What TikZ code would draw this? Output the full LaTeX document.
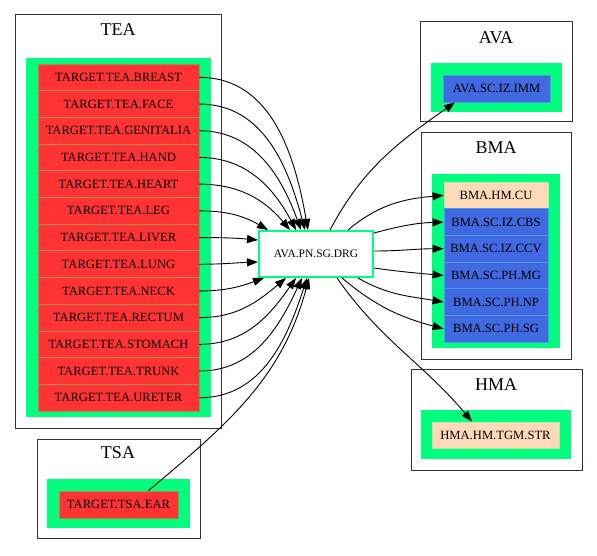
\documentclass[tikz,border=0pt]{standalone}
\usepackage{fontspec}
\setmainfont{Liberation Serif}
\usetikzlibrary{arrows.meta}
\definecolor{sgreen}{RGB}{0,255,127}
\definecolor{tred}{RGB}{255,51,51}
\definecolor{rblue}{RGB}{65,105,225}
\definecolor{peach}{RGB}{255,218,185}
\definecolor{redsep}{RGB}{170,140,80}
\definecolor{bluesep}{RGB}{70,160,225}
\definecolor{peachsep}{RGB}{200,225,170}
\definecolor{clbox}{RGB}{50,50,50}
\tikzset{
  cluster/.style={draw=clbox, line width=1pt},
  cltitle/.style={font=\fontsize{18}{18}\selectfont, inner sep=0pt},
  item/.style={line width=0.8pt, inner sep=0pt, font=\fontsize{12.6}{12.6}\selectfont},
  reditem/.style={item, fill=tred, draw=redsep, minimum width=161pt, minimum height=26.7pt},
  blueitem/.style={item, fill=rblue, draw=bluesep},
  peachitem/.style={item, fill=peach, draw=peachsep},
  hub/.style={draw=sgreen, line width=2pt, fill=white, minimum width=114pt, minimum height=46pt, inner sep=0pt, font=\fontsize{11.5}{11.5}\selectfont},
  link/.style={line width=0.9pt, -{Triangle[length=11pt,width=8pt]}}
}
\begin{document}
\begin{tikzpicture}[x=1pt,y=1pt]
\useasboundingbox (0,0) rectangle (597,555);
\fill[white] (0,0) rectangle (597,555);
% TEA cluster
\draw[cluster] (15,540) rectangle (221,127);
\node[cltitle] (teaT) at (118,525) {TEA};
\fill[sgreen] (26,497) rectangle (211,138);
\foreach \n [count=\i from 0] in {BREAST,FACE,GENITALIA,HAND,HEART,LEG,LIVER,LUNG,NECK,RECTUM,STOMACH,TRUNK,URETER}
  \node[reditem] (t\n) at (118.5,{477.65-26.7*\i}) {TARGET.TEA.\n};
% TSA cluster
\draw[cluster] (37,116) rectangle (200,17);
\node[cltitle] (tsaT) at (118,102) {TSA};
\fill[sgreen] (47,76) rectangle (190,27);
\node[reditem, minimum width=119pt, minimum height=27pt] (ear) at (118.5,50.5) {TARGET.TSA.EAR};
% hub
\node[hub] (drg) at (316,301) {AVA.PN.SG.DRG};
% AVA cluster
\draw[cluster] (420,533) rectangle (572,433);
\node[cltitle] (avaT) at (496,517) {AVA};
\fill[sgreen] (431,492) rectangle (562,443);
\node[blueitem, minimum width=107pt, minimum height=27pt] (imm) at (496.5,466.5) {AVA.SC.IZ.IMM};
% BMA cluster
\draw[cluster] (421,422) rectangle (571,196);
\node[cltitle] (bmaT) at (496,407) {BMA};
\fill[sgreen] (432,381) rectangle (560,207);
\node[peachitem, minimum width=104pt, minimum height=26.7pt] (cu) at (496,359.65) {BMA.HM.CU};
\node[blueitem, minimum width=104pt, minimum height=26.7pt] (cbs) at (496,332.95) {BMA.SC.IZ.CBS};
\node[blueitem, minimum width=104pt, minimum height=26.7pt] (ccv) at (496,306.25) {BMA.SC.IZ.CCV};
\node[blueitem, minimum width=104pt, minimum height=26.7pt] (mg) at (496,279.55) {BMA.SC.PH.MG};
\node[blueitem, minimum width=104pt, minimum height=26.7pt] (np) at (496,252.85) {BMA.SC.PH.NP};
\node[blueitem, minimum width=104pt, minimum height=26.7pt] (sg) at (496,226.15) {BMA.SC.PH.SG};
% HMA cluster
\draw[cluster] (411,186) rectangle (582,85);
\node[cltitle] (hmaT) at (496,170) {HMA};
\fill[sgreen] (421,145) rectangle (571,96);
\node[peachitem, minimum width=127pt, minimum height=26pt] (str) at (495.5,120) {HMA.HM.TGM.STR};
% incoming edges
\draw[link] (tBREAST.east) to[out=0,in=100] ([xshift=-8pt]drg.north);
\draw[link] (tFACE.east) to[out=0,in=105] ([xshift=-11pt]drg.north);
\draw[link] (tGENITALIA.east) to[out=0,in=110] ([xshift=-15pt]drg.north);
\draw[link] (tHAND.east) to[out=0,in=118] ([xshift=-20pt]drg.north);
\draw[link] (tHEART.east) to[out=0,in=130] ([xshift=-26pt]drg.north);
\draw[link] (tLEG.east) to[out=0,in=150] ([xshift=-48pt]drg.north);
\draw[link] (tLIVER.east) to[out=0,in=175] ([yshift=14pt]drg.west);
\draw[link] (tLUNG.east) to[out=0,in=182] ([yshift=-8pt]drg.west);
\draw[link] (tNECK.east) to[out=0,in=200] ([xshift=-52pt]drg.south);
\draw[link] (tRECTUM.east) to[out=0,in=220] ([xshift=-30pt]drg.south);
\draw[link] (tSTOMACH.east) to[out=0,in=235] ([xshift=-20pt]drg.south);
\draw[link] (tTRUNK.east) to[out=0,in=245] ([xshift=-14pt]drg.south);
\draw[link] (tURETER.east) to[out=0,in=252] ([xshift=-9pt]drg.south);
\draw[link] ([xshift=30pt]ear.north) to[out=40,in=255] ([xshift=-7pt]drg.south);
% outgoing edges
\draw[link] ([xshift=14pt]drg.north) to[out=62,in=215] ([xshift=-41.5pt]imm.south);
\draw[link] ([xshift=32pt]drg.north) to[out=40,in=185] (cu.west);
\draw[link] ([yshift=-3pt]drg.north east) to[out=15,in=182] (cbs.west);
\draw[link] ([yshift=3pt]drg.east) to[out=0,in=180] (ccv.west);
\draw[link] ([yshift=-14pt]drg.east) to[out=-8,in=175] (mg.west);
\draw[link] ([xshift=42pt]drg.south) to[out=-30,in=170] (np.west);
\draw[link] ([xshift=26pt]drg.south) to[out=-40,in=165] (sg.west);
\draw[link] ([xshift=21pt]drg.south) to[out=-55,in=130] ([xshift=-23.5pt]str.north);
\end{tikzpicture}
\end{document}
